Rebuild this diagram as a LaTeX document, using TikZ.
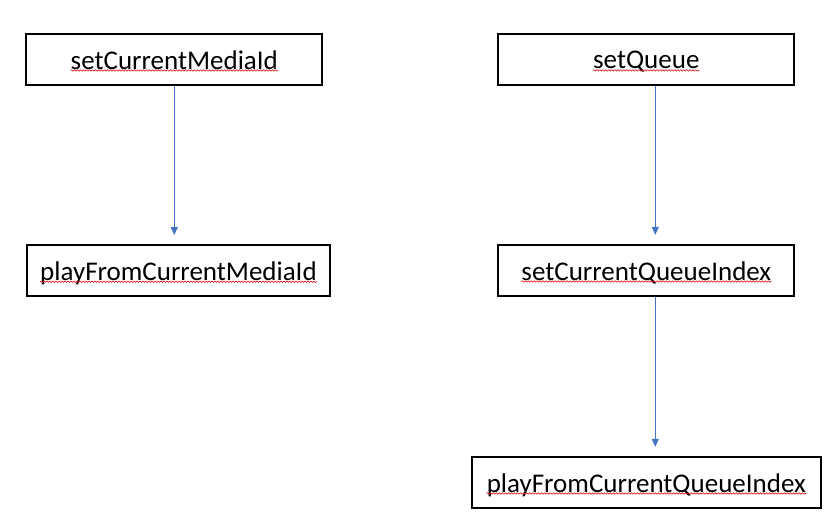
\documentclass[tikz,border=0pt]{standalone}
\usepackage{fontspec}
\setmainfont{Carlito}
\usepackage{tikz}
\usepackage{xcolor}
\usetikzlibrary{arrows.meta,decorations.pathmorphing}
\definecolor{bleuoffice}{RGB}{68,114,196}
\tikzset{
Boite/.style={
 draw=black, 
 line width=2pt, 
 minimum height=51pt, 
 inner sep=0pt
 },
Texte/.style={
 anchor=base, 
 inner sep=0pt, 
 font=\fontsize{27}{32}\selectfont
 },
BFleche/.style={
 draw=bleuoffice, 
 line width=1pt, 
 -{Triangle[width=7pt,length=8pt]}, 
 shorten >=9pt
 },
Vague/.style={
 draw=red!85!black, 
 line width=0.6pt, 
 decorate, 
 decoration={snake,segment length=3pt,amplitude=0.7pt}
 }
}
\begin{document}
\begin{tikzpicture}[x=1pt,y=-1pt]
\useasboundingbox (0,0) rectangle (840,530);
\node[Boite,minimum width=296pt] (cmid) at (174.3,59.3) {};
\node[Boite,minimum width=303pt] (pfcmid) at (178.5,270.5) {};
\node[Boite,minimum width=296pt] (sq) at (646.3,59.2) {};
\node[Boite,minimum width=296pt] (scqi) at (646.3,270.3) {};
\node[Boite,minimum width=349pt] (pfcqi) at (646.3,482.3) {};
\node[Texte] (tcmid) at ([yshift=-9.7pt]cmid.center) {setCurrentMediaId};
\node[Texte] (tpfcmid) at ([yshift=-9.7pt]pfcmid.center) {playFromCurrentMediaId};
\node[Texte] (tsq) at ([yshift=-9.7pt]sq.center) {setQueue};
\node[Texte] (tscqi) at ([yshift=-9.7pt]scqi.center) {setCurrentQueueIndex};
\node[Texte] (tpfcqi) at ([yshift=-9.7pt]pfcqi.center) {playFromCurrentQueueIndex};
\draw[BFleche] (cmid.south) -- (cmid.south |- pfcmid.north);
\draw[BFleche] ([xshift=9pt]sq.south) -- ([xshift=9pt]sq.south |- scqi.north);
\draw[BFleche] ([xshift=9pt]scqi.south) -- ([xshift=9pt]scqi.south |- pfcqi.north);
\foreach \t in {tcmid,tpfcmid,tsq,tscqi,tpfcqi}
 \draw[Vague] ([yshift=-1.5pt]\t.base west) -- ([yshift=-1.5pt]\t.base east);
\end{tikzpicture}
\end{document}
